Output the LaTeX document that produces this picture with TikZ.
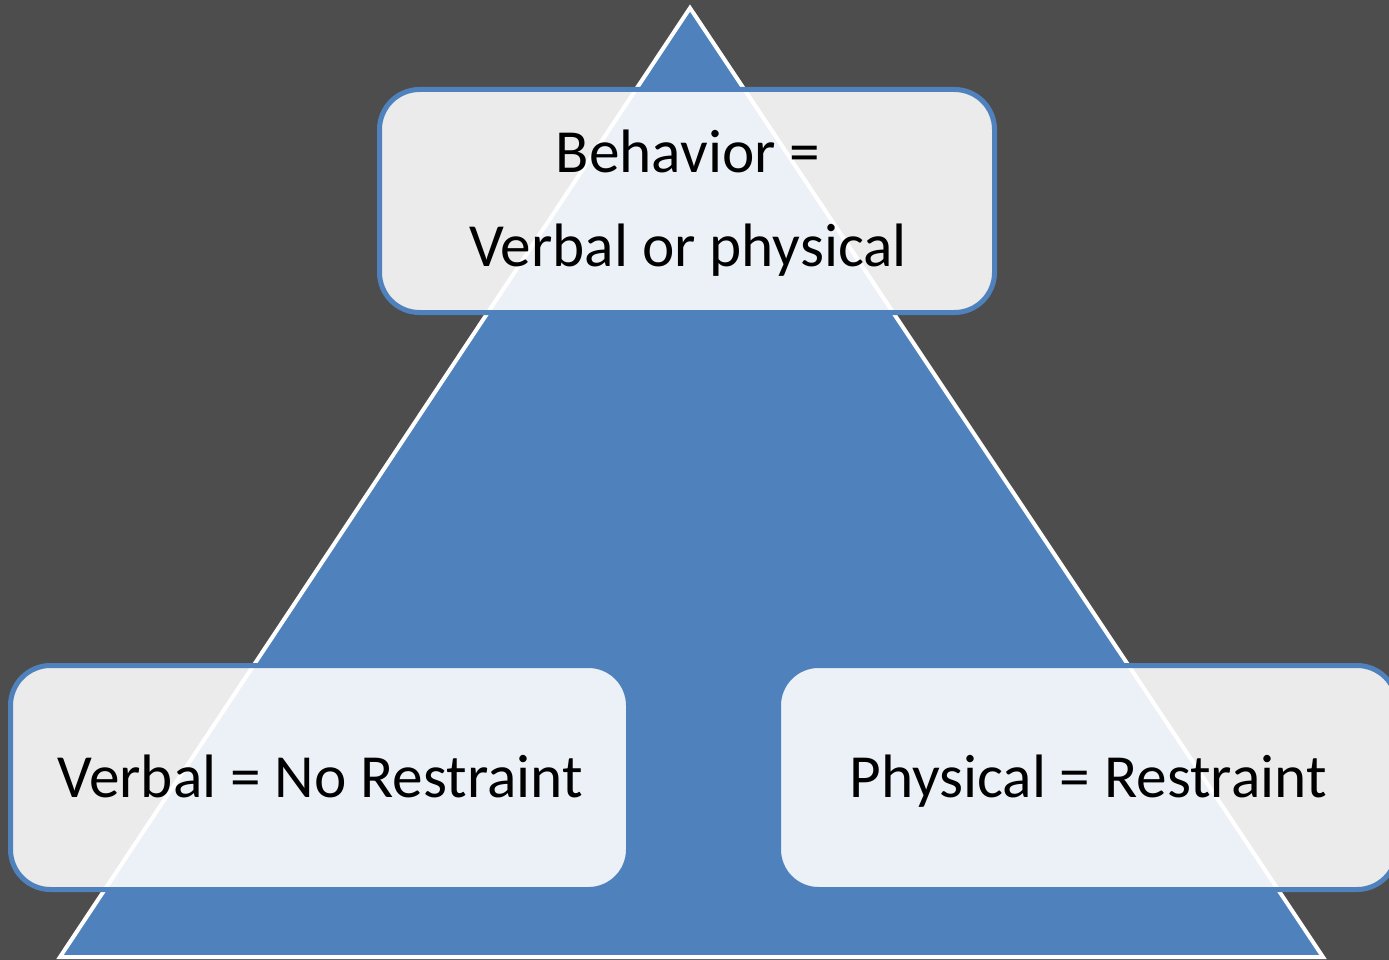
\documentclass[tikz,border=0pt]{standalone}
\usepackage{fontspec}
\setmainfont{Carlito}
\definecolor{bgc}{HTML}{4D4D4D}
\definecolor{triblue}{HTML}{4F81BD}
\begin{document}
\begin{tikzpicture}[x=1pt,y=-1pt,
  boxst/.style={draw=triblue, line width=5pt, rounded corners=40pt, fill=white, fill opacity=0.89, draw opacity=1, inner sep=0pt},
  txt/.style={font=\fontsize{61.3}{93}\selectfont, text=black, inner sep=0pt, anchor=base}]
\useasboundingbox (0,0) rectangle (1389,960);
\fill[bgc] (0,0) rectangle (1389,960);
% pyramid
\filldraw[fill=triblue, draw=white, line width=4pt, line join=miter]
  (690,8) coordinate (apex) -- (1323,957) coordinate (br) -- (60,957) coordinate (bl) -- cycle;
% boxes
\draw[boxst] (379.5,89.5) rectangle (994.5,312.5);
\draw[boxst] (10.5,665.5) rectangle (628.5,889.5);
\draw[boxst] (778.5,665.5) rectangle (1397,889.5);
% texts
\node[txt] (t1) at (688,173) {Behavior =};
\node[txt] (t2) at (688,266) {Verbal or physical};
\node[txt] (t3) at (320,797) {Verbal = No Restraint};
\node[txt] (t4) at (1088,797) {Physical = Restraint};
\end{tikzpicture}
\end{document}
